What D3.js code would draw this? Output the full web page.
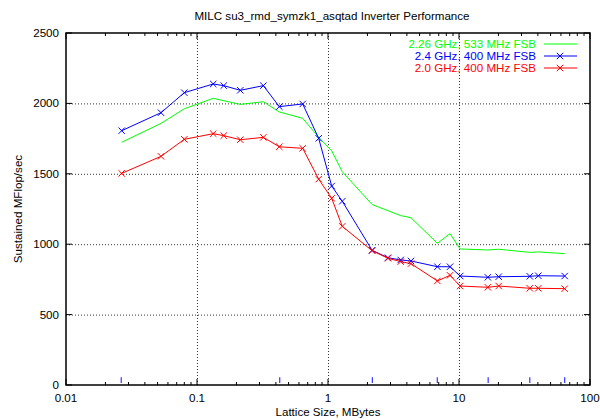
<!DOCTYPE html>
<html>
<head>
<meta charset="utf-8">
<script src="https://cdn.jsdelivr.net/npm/d3@7"></script>
<style>
  body { margin: 0; background: #fff; }
  text { font-family: "Liberation Sans", Arial, sans-serif; font-size: 11.6px; fill: #000; }
</style>
</head>
<body>
<script>
// series (x in MBytes, y in MFlop/sec)
var greenX = [0.0266, 0.0531, 0.080, 0.133, 0.214, 0.321, 0.425, 0.641, 0.849, 1.067, 1.285, 2.17, 3.59, 4.30, 6.84, 8.54, 10.2, 16.6, 20.1, 34.7, 40.3, 64.1];
var greenY = [1724, 1858, 1962, 2036, 1993, 2012, 1939, 1894, 1760, 1663, 1515, 1282, 1203, 1188, 1006, 1075, 966, 959, 964, 942, 945, 933];

var sizesX = [0.0266, 0.0531, 0.080, 0.133, 0.160, 0.214, 0.321, 0.425, 0.641, 0.849, 1.067, 1.285, 2.17, 2.87, 3.59, 4.30, 6.84, 8.54, 10.2, 16.6, 20.1, 34.7, 40.3, 64.1];
var blueY = [1806, 1934, 2076, 2138, 2126, 2093, 2126, 1977, 1996, 1752, 1413, 1305, 957, 904, 888, 881, 840, 840, 774, 765, 769, 772, 776, 774];
var redY = [1503, 1624, 1745, 1785, 1771, 1742, 1759, 1692, 1681, 1462, 1326, 1127, 954, 900, 876, 862, 739, 779, 703, 694, 703, 687, 687, 684];

// small blue impulses near the x axis
var markX = [0.0264, 0.428, 2.18, 6.83, 16.7, 34.7, 64.1];

var xTicks = [0.01, 0.1, 1, 10, 100];
var yTicks = [0, 500, 1000, 1500, 2000, 2500];
var legendNames = ["2.26 GHz, 533 MHz FSB", "2.4 GHz, 400 MHz FSB", "2.0 GHz, 400 MHz FSB"];
var legendColors = ["#00ff00", "#0000ff", "#ff0000"];

var W = 600, H = 420;
var pL = 66, pR = 590, pT = 33, pB = 385;

var svg = d3.select('body').append('svg')
  .attr('width', W)
  .attr('height', H);

var x = d3.scaleLog().domain([0.01, 100]).range([pL, pR]);
var y = d3.scaleLinear().domain([0, 2500]).range([pB, pT]);

// grid
var grid = svg.append('g').attr('stroke', '#000').attr('stroke-width', 0.8).attr('stroke-dasharray', '1,2');
grid.selectAll('line.gx').data(xTicks.slice(1, -1)).enter().append('line')
  .attr('x1', function(d){ return x(d) + 0.5 }).attr('x2', function(d){ return x(d) + 0.5 })
  .attr('y1', pT).attr('y2', pB);
grid.selectAll('line.gy').data(yTicks.slice(1, -1)).enter().append('line')
  .attr('x1', pL).attr('x2', pR)
  .attr('y1', function(d){ return y(d) + 0.5 }).attr('y2', function(d){ return y(d) + 0.5 });

// minor x ticks
var minor = [];
for (var dec = 0.01; dec < 100; dec *= 10) {
  for (var k = 2; k < 10; k++) minor.push(dec * k);
}

var ticks = svg.append('g').attr('stroke', '#000').attr('stroke-width', 1);
ticks.selectAll('line.mb').data(minor).enter().append('line')
  .attr('x1', function(d){ return x(d) }).attr('x2', function(d){ return x(d) })
  .attr('y1', pB).attr('y2', pB - 3);
ticks.selectAll('line.mt').data(minor).enter().append('line')
  .attr('x1', function(d){ return x(d) }).attr('x2', function(d){ return x(d) })
  .attr('y1', pT).attr('y2', pT + 3);
ticks.selectAll('line.xb').data(xTicks).enter().append('line')
  .attr('x1', function(d){ return x(d) }).attr('x2', function(d){ return x(d) })
  .attr('y1', pB).attr('y2', pB - 6);
ticks.selectAll('line.xt').data(xTicks).enter().append('line')
  .attr('x1', function(d){ return x(d) }).attr('x2', function(d){ return x(d) })
  .attr('y1', pT).attr('y2', pT + 6);
ticks.selectAll('line.yl').data(yTicks).enter().append('line')
  .attr('x1', pL).attr('x2', pL + 6)
  .attr('y1', function(d){ return y(d) }).attr('y2', function(d){ return y(d) });
ticks.selectAll('line.yr').data(yTicks).enter().append('line')
  .attr('x1', pR).attr('x2', pR - 6)
  .attr('y1', function(d){ return y(d) }).attr('y2', function(d){ return y(d) });

// frame
svg.append('rect')
  .attr('x', pL).attr('y', pT)
  .attr('width', pR - pL).attr('height', pB - pT)
  .attr('fill', 'none').attr('stroke', '#000').attr('stroke-width', 1.5);

// tick labels
svg.selectAll('text.xl').data(xTicks).enter().append('text')
  .attr('x', function(d){ return x(d) })
  .attr('y', pB + 17)
  .attr('text-anchor', 'middle')
  .text(function(d){ return d3.format('~g')(d) });
svg.selectAll('text.yl').data(yTicks).enter().append('text')
  .attr('x', pL - 7)
  .attr('y', function(d){ return y(d) + 4 })
  .attr('text-anchor', 'end')
  .text(function(d){ return d });

// titles
svg.append('text').attr('x', (pL + pR) / 2 + 4).attr('y', 20)
  .attr('text-anchor', 'middle')
  .text('MILC su3_rmd_symzk1_asqtad Inverter Performance');
svg.append('text').attr('x', (pL + pR) / 2).attr('y', 416)
  .attr('text-anchor', 'middle')
  .text('Lattice Size, MBytes');
svg.append('text')
  .attr('transform', 'translate(22,' + ((pT + pB) / 2) + ') rotate(-90)')
  .attr('text-anchor', 'middle')
  .text('Sustained MFlop/sec');

// impulses
svg.selectAll('line.imp').data(markX).enter().append('line')
  .attr('x1', function(d){ return x(d) }).attr('x2', function(d){ return x(d) })
  .attr('y1', y(15)).attr('y2', y(55))
  .attr('stroke', '#3333ff').attr('stroke-width', 1.2);

var line = d3.line()
  .x(function(d){ return x(d[0]) })
  .y(function(d){ return y(d[1]) });

var greenData = d3.zip(greenX, greenY);
var blueData = d3.zip(sizesX, blueY);
var redData = d3.zip(sizesX, redY);

function cross(g, data, color) {
  g.selectAll('path.pt').data(data).enter().append('path')
    .attr('d', function(d){
      var cx = x(d[0]), cy = y(d[1]), s = 3.2;
      return 'M' + (cx - s) + ',' + (cy - s) + 'L' + (cx + s) + ',' + (cy + s) +
             'M' + (cx - s) + ',' + (cy + s) + 'L' + (cx + s) + ',' + (cy - s);
    })
    .attr('stroke', color).attr('stroke-width', 1).attr('fill', 'none');
}

svg.append('path').datum(greenData).attr('d', line)
  .attr('fill', 'none').attr('stroke', legendColors[0]).attr('stroke-width', 1);

var gb = svg.append('g');
gb.append('path').datum(blueData).attr('d', line)
  .attr('fill', 'none').attr('stroke', legendColors[1]).attr('stroke-width', 1);
cross(gb, blueData, legendColors[1]);

var gr = svg.append('g');
gr.append('path').datum(redData).attr('d', line)
  .attr('fill', 'none').attr('stroke', legendColors[2]).attr('stroke-width', 1);
cross(gr, redData, legendColors[2]);

// legend
var leg = svg.append('g');
legendNames.forEach(function(name, i) {
  var ly = 44 + i * 12;
  leg.append('text').attr('x', 536).attr('y', ly + 4)
    .attr('text-anchor', 'end')
    .style('fill', legendColors[i])
    .text(name);
  leg.append('line').attr('x1', 544).attr('x2', 577)
    .attr('y1', ly).attr('y2', ly)
    .attr('stroke', legendColors[i]).attr('stroke-width', 1);
  if (i > 0) {
    var s = 3.2, cx = 560;
    leg.append('path')
      .attr('d', 'M' + (cx - s) + ',' + (ly - s) + 'L' + (cx + s) + ',' + (ly + s) +
                 'M' + (cx - s) + ',' + (ly + s) + 'L' + (cx + s) + ',' + (ly - s))
      .attr('stroke', legendColors[i]).attr('fill', 'none');
  }
});
</script>
</body>
</html>
